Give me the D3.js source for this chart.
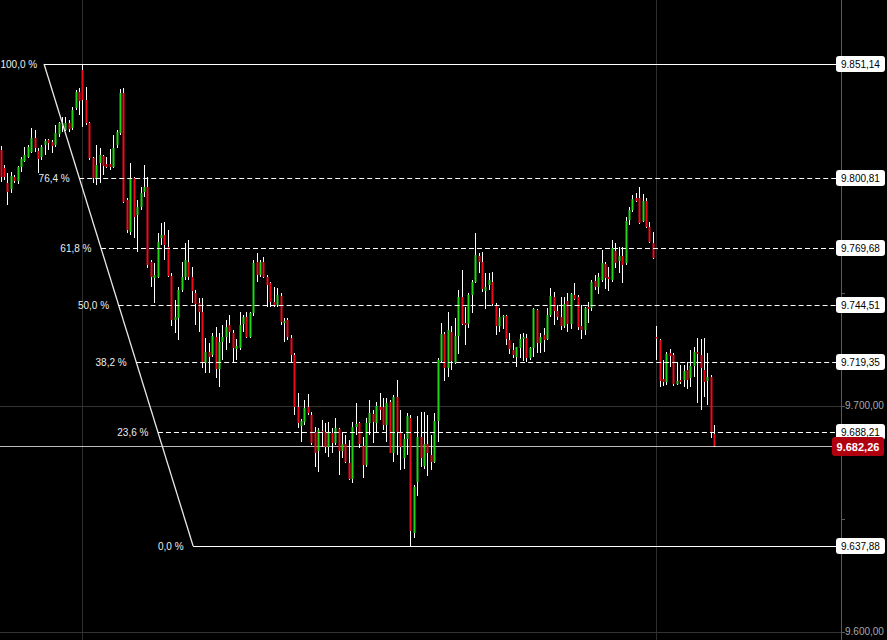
<!DOCTYPE html>
<html><head><meta charset="utf-8">
<script src="https://cdn.jsdelivr.net/npm/d3@7"></script>
<style>html,body{margin:0;padding:0;background:#000;}svg{display:block;}</style>
</head><body>
<svg id="chart" width="887" height="640"></svg>
<script>
// ---- data ----
const open = [9813,9805,9798.5,9795.8,9801.1,9799.4,9805.6,9808.2,9810,9812.2,9818.4,9812.6,9810,9815.3,9817.5,9816.6,9815.3,9820.2,9825,9822,9825,9822.8,9831.7,9838.8,9848.5,9835.2,9825,9809.6,9800.7,9807.3,9810.5,9806.9,9806.9,9805.6,9815.3,9820.6,9838.3,9791,9776.8,9800.7,9784.3,9787.9,9794.5,9796.7,9763.5,9756.5,9757,9774,9775.5,9770.1,9757.4,9737.9,9738.8,9751.2,9757,9763.5,9757,9749.8,9745.4,9741.4,9718.9,9723.7,9722.4,9730.4,9716.3,9728.2,9730.4,9735.7,9732.1,9725,9725.5,9736.1,9739.3,9730.4,9741,9763.5,9757.8,9763.5,9757,9754.3,9745.8,9744.5,9748.5,9736.6,9737.9,9729.9,9722.4,9699.4,9691,9692.7,9699.4,9695.8,9688.3,9680,9688.7,9688.3,9681.7,9687.9,9683.5,9689.7,9680,9683,9674.6,9667.5,9690.5,9692.3,9682.2,9673.7,9692.3,9696.3,9692.3,9699.4,9699.4,9691.4,9701.6,9679,9703.8,9688.3,9676.8,9685.2,9694.5,9643.6,9666.2,9686.1,9673.3,9683,9678.2,9675,9693.2,9719.7,9731.7,9716.7,9732.6,9718.9,9730.8,9748,9736.6,9736.1,9748.9,9754.7,9766.2,9763.5,9750.7,9753.4,9754.7,9744.5,9735.2,9739.3,9739.7,9729,9724.6,9721.5,9725.5,9729.5,9729.9,9721,9725.5,9742.3,9727.7,9731.3,9729.5,9740.1,9748,9741.8,9739.2,9735.2,9746.3,9736.1,9748.9,9748,9735.2,9733.5,9743.6,9743.2,9755.2,9752.5,9755.6,9762.7,9756.9,9755.6,9768.4,9764,9766.2,9763.1,9782.1,9786.6,9791.9,9791.9,9781.7,9790.5,9779,9772,9730.4,9729,9711.8,9710.4,9723.3,9722.4,9709.6,9711.3,9711.3,9715.8,9712.2,9717.5,9723.7,9722.4,9715.8,9710.9,9712.7,9687.5];
const high = [9815,9806.5,9803,9803.4,9802,9806,9810,9814.4,9815.3,9822.8,9822,9814,9815.3,9818,9818,9817.5,9824.2,9825.5,9827.7,9827.7,9826.4,9832.1,9839.6,9840.5,9851.14,9841,9825.5,9810,9815.3,9814,9810.9,9810,9813.5,9819.7,9822,9840,9840.5,9791.9,9807.4,9801.1,9791,9796.7,9806.5,9801.1,9764.4,9763,9776.3,9780.8,9781.2,9777.7,9758.7,9746.7,9752.5,9763.5,9772,9773.3,9761.3,9751.2,9747.6,9747.6,9729.9,9727.7,9732.1,9734.8,9732.1,9735.7,9737.9,9740,9733.5,9729.5,9741.4,9740,9741.4,9741.4,9764.4,9767.5,9764.4,9765.7,9757.8,9754.7,9752.5,9752,9749.8,9738.8,9738.8,9731.3,9723.3,9705.6,9694,9702.5,9705.1,9697.2,9690.5,9690.1,9693.6,9692.3,9692.7,9690.1,9694.5,9690.1,9687.9,9687,9684.8,9692.7,9701.1,9692.7,9686.1,9694.5,9702.5,9698.1,9701.6,9705.6,9703.4,9703.4,9702.5,9704.7,9711.3,9698.1,9687.5,9696.7,9695.8,9664.9,9695.4,9697.2,9697.2,9695.8,9687,9696.7,9721,9736.6,9732.6,9741.4,9735.2,9738.8,9751.2,9760,9743.6,9749.8,9755.6,9776.4,9767.5,9768,9758.7,9758.7,9759.1,9745.4,9743.2,9740,9740,9732.1,9727.7,9725.9,9731.7,9732.1,9731.7,9725.9,9743.2,9742.7,9732.1,9734.4,9743.2,9752,9750.3,9744.5,9748,9748,9749.8,9749.8,9754.3,9748.9,9744.5,9743.6,9745.8,9755.6,9757.8,9758.7,9768.9,9763.5,9761.3,9773.3,9771.9,9770.2,9770.2,9783.5,9787.9,9793.2,9794.1,9796.7,9793.6,9791.9,9781.2,9776.8,9735.2,9729.5,9720.2,9723.7,9725,9723.3,9719.3,9718,9718,9719.3,9724.6,9725.9,9729.9,9729.5,9729.9,9723.3,9713.5,9691.4];
const low = [9799,9800,9788.8,9794,9798.5,9798,9803.4,9807.8,9809.6,9811.8,9812.2,9803,9808.7,9811,9813,9811.8,9814.4,9818.8,9821,9821.5,9821,9822,9830.8,9828.6,9823.3,9824.2,9808.7,9798.5,9797.6,9798.5,9802,9805.1,9804.3,9805.1,9814,9819.7,9789.6,9776.3,9775.5,9774,9768,9786.6,9792.3,9761,9752.5,9745.4,9756.5,9771,9764.4,9757,9735,9732,9729,9750.3,9755.6,9755.6,9745.4,9735.5,9732.6,9716.7,9714.4,9714.4,9721.5,9712.2,9708.2,9720.2,9724.6,9727.7,9719.3,9720.2,9724.6,9732.6,9730,9730,9739.7,9754.7,9757,9756.5,9743.8,9743.6,9743.6,9743.6,9735.7,9728.2,9729,9719.3,9695.8,9690.1,9684,9691.4,9695.8,9682.6,9673,9670.6,9681.7,9679.1,9677.3,9679.1,9682.6,9669.3,9676.8,9674.6,9667.1,9665.8,9687,9681.3,9668,9672.8,9687,9683.5,9687.9,9693.6,9689.2,9683.9,9679,9675,9678.2,9671.5,9672,9678.2,9637.88,9641.4,9660,9673,9672,9668.9,9671.5,9674.6,9683.9,9718.9,9710.9,9712.7,9715.8,9718.4,9722.8,9735.7,9726.8,9734.4,9741,9754.3,9758.7,9750.3,9742.7,9751.2,9744.1,9731.3,9732.6,9733.9,9726.8,9722.8,9721,9717.1,9721,9719.7,9719.3,9720.2,9721.5,9723.3,9723.3,9723.7,9729,9739.3,9735.7,9737.9,9733.5,9734.4,9732.6,9733.9,9746.7,9733.5,9729.5,9731.3,9736.6,9741.8,9751.2,9749.4,9754.7,9751.6,9750.7,9754.7,9760.9,9758.7,9754.3,9762.2,9779.9,9785.7,9790.1,9780.4,9781.2,9778.6,9771.9,9764.9,9720.2,9708.2,9708.7,9709.1,9717.1,9708.7,9709.1,9709.6,9708.2,9707.4,9708.2,9712.7,9701.1,9698.1,9703.8,9700.3,9685.7,9681.7];
const close = [9801,9801,9794.5,9801.6,9799.4,9805.6,9809,9810.9,9814.4,9818.4,9814,9809.1,9814.4,9817,9816.2,9814.9,9820.6,9825,9823.7,9825,9822.4,9830.8,9838.8,9834.8,9835.2,9825,9809.6,9800.7,9806.5,9810.9,9806,9805.6,9805.6,9814,9821,9838.3,9790,9777.7,9800.7,9783.4,9787.9,9794,9796.7,9762.2,9757,9757.8,9772.4,9775.5,9771,9757.4,9737.9,9739.3,9751.2,9757,9764.4,9757,9750.7,9745,9741.4,9719.3,9723.7,9721.5,9730.8,9716.3,9728.2,9730.4,9734.8,9732.6,9725.5,9726.4,9735.7,9739.3,9730.4,9741,9763.1,9757.8,9763.5,9757,9753.4,9745.8,9744.5,9749,9737,9737.5,9730.4,9722.4,9699.4,9692.3,9693,9699,9696.7,9683.5,9679.1,9689.2,9687.9,9681.7,9688.3,9683.5,9690.1,9680,9683,9675,9667.5,9690.5,9691.9,9683,9673.7,9692.3,9696.7,9692.7,9699.9,9698.1,9691.4,9701.1,9679,9703.8,9688.3,9681.7,9685.2,9695.4,9644.5,9664,9686.1,9676.8,9683,9679,9675,9693.2,9720.2,9731.7,9716.7,9733.5,9719.7,9730.8,9748,9736.1,9735.7,9748.9,9754.7,9766.6,9763.5,9751.6,9752.5,9755.6,9745,9735.2,9739.2,9739.7,9729.5,9725,9722.4,9725.9,9729.5,9730.4,9721,9725.5,9742.7,9727.7,9730.4,9729,9740.1,9748.5,9741.8,9739.2,9735.2,9745,9736.1,9749.4,9747.2,9734.8,9733.5,9743.2,9742.7,9754.7,9752.5,9756.9,9763.1,9756.5,9756,9769.8,9763.1,9766.2,9762.2,9781.7,9786.6,9791.4,9790.5,9780.8,9790.5,9779,9772.4,9765.3,9730,9710.9,9710.4,9722.8,9721.9,9709.6,9710.9,9710.4,9715.3,9711.3,9717.5,9723.7,9722.8,9716.7,9710.4,9712.7,9687.9,9682.26];

const fibPct = ["100,0 %","76,4 %","61,8 %","50,0 %","38,2 %","23,6 %","0,0 %"];
const fibValues = [9851.14, 9800.81, 9769.68, 9744.51, 9719.35, 9688.21, 9637.88];
const fibAnchorIdx = [12.75, 56.4];          // bar positions of the fib tool's two anchors
const gridValues = [9700, 9600];             // labelled axis ticks
const minorTicks = [9800, 9750, 9650];
const gridBars = [24, 192];                  // vertical grid positions (bar index)
const lastPrice = 9682.26;

// ---- layout ----
const W = 887, H = 640, axisX = 841;
const svg = d3.select("#chart");
svg.append("rect").attr("width", W).attr("height", H).attr("fill", "#000");

const n = open.length;
const x = d3.scaleLinear().domain([0, n - 1]).range([0.5, 714.3]);
const y = d3.scaleLinear().domain([9637.88, 9851.14]).range([546, 64]);
const loc = d3.formatLocale({decimal: ",", thousands: ".", grouping: [3], currency: ["", ""]});
const fmt = loc.format(",.2f");
const FONT = "'Liberation Sans', Arial, Helvetica, sans-serif";

// grid
const g = svg.append("g");
g.selectAll("line.vg").data(gridBars).join("line")
  .attr("x1", d => Math.round(x(d)) + 0.5).attr("x2", d => Math.round(x(d)) + 0.5)
  .attr("y1", 0).attr("y2", H).attr("stroke", "#2e2e2e").attr("stroke-width", 1);
g.selectAll("line.hg").data(gridValues).join("line")
  .attr("x1", 0).attr("x2", axisX)
  .attr("y1", d => Math.round(y(d)) + 0.5).attr("y2", d => Math.round(y(d)) + 0.5)
  .attr("stroke", "#333").attr("stroke-width", 1);

// current price line
svg.append("line").attr("x1", 0).attr("x2", 833)
  .attr("y1", Math.round(y(lastPrice)) + 0.5).attr("y2", Math.round(y(lastPrice)) + 0.5)
  .attr("stroke", "#bdbdbd").attr("stroke-width", 1);

// candles
const data = d3.range(n).map(i => ({i, o: open[i], h: high[i], l: low[i], c: close[i]}));
const cg = svg.append("g");
cg.selectAll("rect.wick").data(data).join("rect")
  .attr("x", d => Math.round(x(d.i)))
  .attr("width", 1)
  .attr("y", d => Math.round(y(d.h)))
  .attr("height", d => Math.max(1, Math.round(y(d.l)) - Math.round(y(d.h))))
  .attr("fill", "#ffffff");
cg.selectAll("rect.body").data(data).join("rect")
  .attr("x", d => Math.round(x(d.i)) - 0.5)
  .attr("width", 2)
  .attr("y", d => Math.round(y(Math.max(d.o, d.c))))
  .attr("height", d => Math.max(1.5, Math.round(y(Math.min(d.o, d.c))) - Math.round(y(Math.max(d.o, d.c)))))
  .attr("fill", d => d.c >= d.o ? "#22d313" : "#ec0a1e");

// fibonacci tool
const xA = x(fibAnchorIdx[0]), xB = x(fibAnchorIdx[1]);
const yA = y(fibValues[0]), yB = y(fibValues[fibValues.length - 1]);
const xAt = v => xA + (y(v) - yA) / (yB - yA) * (xB - xA);
const fg = svg.append("g");
fg.append("line").attr("x1", xA).attr("y1", yA).attr("x2", xB).attr("y2", yB)
  .attr("stroke", "#e8e8e8").attr("stroke-width", 1.3);
fibValues.forEach((v, k) => {
  const yy = Math.round(y(v)) + 0.5;
  const solid = (k === 0 || k === fibValues.length - 1);
  fg.append("line").attr("x1", xAt(v)).attr("x2", 836)
    .attr("y1", yy).attr("y2", yy)
    .attr("stroke", "#ffffff").attr("stroke-width", 1)
    .attr("stroke-dasharray", solid ? null : "5,3");
  const t = fg.append("text").attr("x", xAt(v) - 9.5).attr("y", yy + 3.5)
    .attr("text-anchor", "end").attr("fill", "#ededed")
    .attr("font-family", FONT).attr("font-size", 10).text(fibPct[k]);
  const bb = t.node().getBBox();
  if (bb.x < 0.5) t.attr("text-anchor", "start").attr("x", 0.5);
});

// right axis
const ax = svg.append("g");
ax.append("line").attr("x1", axisX + 0.5).attr("x2", axisX + 0.5).attr("y1", 0).attr("y2", H)
  .attr("stroke", "#5a5a5a").attr("stroke-width", 1);
ax.selectAll("line.mt").data(minorTicks.concat(gridValues)).join("line")
  .attr("x1", axisX).attr("x2", axisX + 4)
  .attr("y1", d => Math.round(y(d)) + 0.5).attr("y2", d => Math.round(y(d)) + 0.5)
  .attr("stroke", "#5a5a5a");
ax.selectAll("text.gl").data(gridValues).join("text")
  .attr("x", 845).attr("y", d => y(d) + 3.5)
  .attr("fill", "#a8a8a8").attr("font-family", FONT).attr("font-size", 10)
  .text(d => fmt(d));

// level boxes
const lb = ax.selectAll("g.lb").data(fibValues).join("g")
  .attr("transform", d => `translate(836,${Math.round(y(d)) - 8})`);
lb.append("rect").attr("width", 49).attr("height", 16).attr("rx", 3)
  .attr("fill", "#ffffff");
lb.append("text").attr("x", 5).attr("y", 11.5).attr("fill", "#000")
  .attr("font-family", FONT).attr("font-size", 10).text(d => fmt(d));

// last price box
const pb = ax.append("g").attr("transform", `translate(832,${Math.round(y(lastPrice)) - 9})`);
pb.append("rect").attr("width", 52).attr("height", 19).attr("rx", 3).attr("fill", "#b0000f");
pb.append("text").attr("x", 26).attr("y", 13.5).attr("text-anchor", "middle")
  .attr("fill", "#fff").attr("font-weight", "bold")
  .attr("font-family", FONT).attr("font-size", 11).text(fmt(lastPrice));
</script>
</body></html>
